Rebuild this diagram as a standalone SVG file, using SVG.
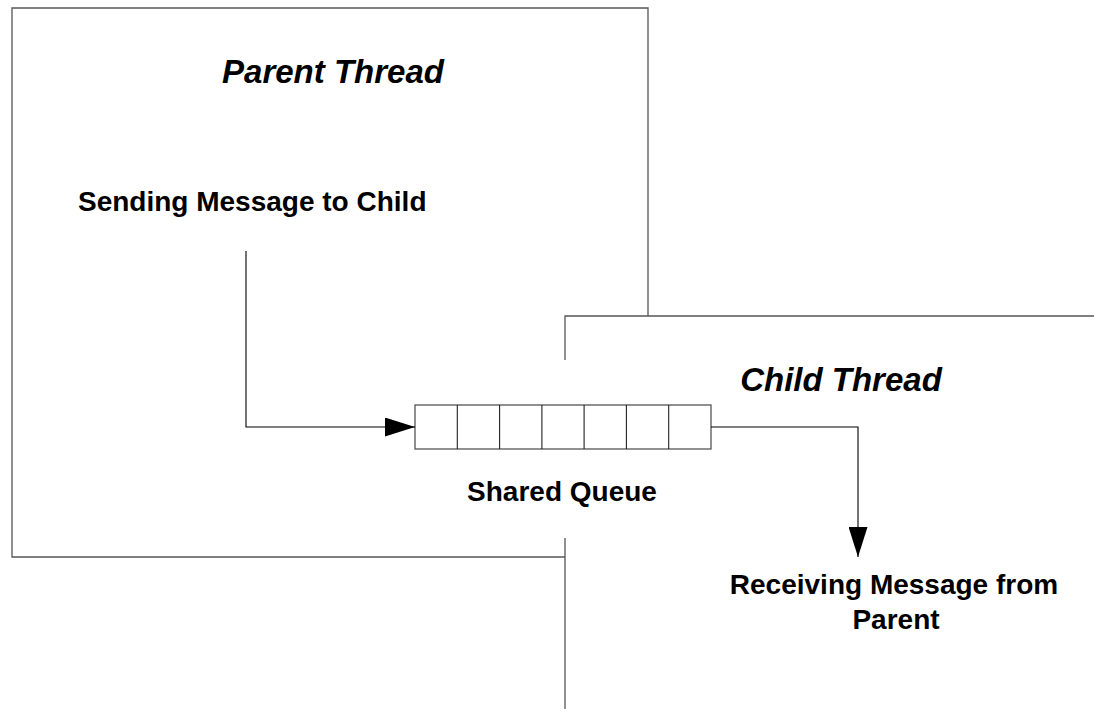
<svg xmlns="http://www.w3.org/2000/svg" width="1094" height="709" viewBox="0 0 1094 709">
<style>
.frame{fill:none;stroke:#555;stroke-width:1.3}
.q{fill:#fff;stroke:#555;stroke-width:1.3}
.qd{stroke:#222;stroke-width:1.1}
.conn{fill:none;stroke:#000;stroke-width:1.1}
.t{font-family:"Liberation Sans",Arial,sans-serif;font-weight:bold;fill:#000}
.title{font-size:33px;font-style:italic}
.lbl{font-size:28px}
</style>
<defs>
<marker id="ah" viewBox="0 0 30 19" refX="30" refY="9.5" markerWidth="30" markerHeight="19" markerUnits="userSpaceOnUse" orient="auto">
<path d="M0,0 L30,9.5 L0,19 Z" fill="#000"/>
</marker>
</defs>
<rect width="1094" height="709" fill="#fff"/>
<g id="parent-thread">
<path class="frame" d="M648,316 L648,8 L12,8 L12,557 L565,557"/>
<text class="t title" x="333" y="83" text-anchor="middle">Parent Thread</text>
<text class="t lbl" x="78" y="211">Sending Message to Child</text>
</g>
<g id="child-thread">
<path class="frame" d="M565,360 L565,316 L1094,316"/>
<path class="frame" d="M565,538 L565,709"/>
<text class="t title" x="841" y="391" text-anchor="middle">Child Thread</text>
<text class="t lbl" x="894" y="594" text-anchor="middle">Receiving Message from</text>
<text class="t lbl" x="896" y="629" text-anchor="middle">Parent</text>
</g>
<g id="shared-queue">
<rect class="q" x="415" y="405" width="296" height="44"/>
<path class="qd" d="M457.3,405V449M499.6,405V449M541.9,405V449M584.1,405V449M626.4,405V449M668.7,405V449"/>
<text class="t lbl" x="562" y="501" text-anchor="middle">Shared Queue</text>
</g>
<g id="connectors">
<path class="conn" d="M246,251 L246,427 L415,427" marker-end="url(#ah)"/>
<path class="conn" d="M711,427 L858,427 L858,557" marker-end="url(#ah)"/>
</g>
</svg>
